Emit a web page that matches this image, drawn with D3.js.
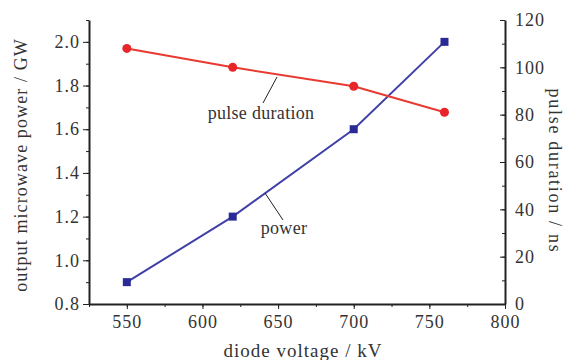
<!DOCTYPE html>
<html>
<head>
<meta charset="utf-8">
<script src="https://cdn.jsdelivr.net/npm/d3@7"></script>
<style>
  body { margin: 0; background: #fff; }
  svg text { font-family: "Liberation Serif", "Times New Roman", Tinos, "DejaVu Serif", serif; fill: #333; }
  .axis path, .axis line { stroke: #222; }
</style>
</head>
<body>
<script>
// diode voltage (kV)
var voltage = [550, 620, 700, 760];
// output microwave power (GW)
var power = [0.9, 1.2, 1.6, 2.0];
// pulse duration (ns)
var duration = [108, 100, 92, 81];

var xTicks = [550, 600, 650, 700, 750, 800];
var yLeftTicks = [0.8, 1.0, 1.2, 1.4, 1.6, 1.8, 2.0];
var yRightTicks = [0, 20, 40, 60, 80, 100, 120];

var serif = '"Liberation Serif", "Times New Roman", Tinos, "DejaVu Serif", serif';

var w = 565, h = 360;
var margin = {top: 20, bottom: 56, left: 89, right: 60};

var svg = d3.select("body").append("svg")
  .attr("width", w)
  .attr("height", h)
  .attr("font-family", serif);

var x = d3.scaleLinear()
  .domain([525, 800])
  .range([margin.left, w - margin.right]);

var yL = d3.scaleLinear()
  .domain([0.8, 2.1])
  .range([h - margin.bottom, margin.top]);

var yR = d3.scaleLinear()
  .domain([0, 120])
  .range([h - margin.bottom, margin.top]);

// minor ticks first, majors on top
svg.append("g")
  .attr("class", "axis")
  .attr("transform", "translate(0," + (h - margin.bottom) + ")")
  .call(d3.axisBottom(x).tickValues(d3.range(525, 801, 25)).tickSize(3).tickFormat(""))
  .call(function(g){ g.select(".domain").remove(); });

svg.append("g")
  .attr("class", "axis")
  .attr("transform", "translate(" + margin.left + ",0)")
  .call(d3.axisLeft(yL).tickValues(d3.range(0.8, 2.15, 0.1)).tickSize(3).tickFormat(""))
  .call(function(g){ g.select(".domain").remove(); });

svg.append("g")
  .attr("class", "axis")
  .attr("transform", "translate(" + (w - margin.right) + ",0)")
  .call(d3.axisRight(yR).tickValues(d3.range(0, 121, 10)).tickSize(-3).tickFormat(""))
  .call(function(g){ g.select(".domain").remove(); });

svg.append("g")
  .attr("class", "axis")
  .attr("transform", "translate(0," + (h - margin.bottom) + ")")
  .call(d3.axisBottom(x).tickValues(xTicks).tickSize(5).tickPadding(6).tickSizeOuter(0));

svg.append("g")
  .attr("class", "axis")
  .attr("transform", "translate(" + margin.left + ",0)")
  .call(d3.axisLeft(yL).tickValues(yLeftTicks).tickSize(6).tickPadding(3)
    .tickSizeOuter(0).tickFormat(d3.format(".1f")));

svg.append("g")
  .attr("class", "axis")
  .attr("transform", "translate(" + (w - margin.right) + ",0)")
  .call(d3.axisRight(yR).tickValues(yRightTicks).tickSize(-5).tickPadding(10).tickSizeOuter(0));

svg.selectAll(".axis path.domain").attr("stroke-width", 2);
svg.selectAll(".axis text")
  .attr("font-family", serif)
  .style("font-family", serif)
  .style("font-size", "18px")
  .style("letter-spacing", "1px")
  .attr("fill", "#333");

// lines
var linePower = d3.line()
  .x(function(d, i){ return x(voltage[i]); })
  .y(function(d){ return yL(d); });

var lineDur = d3.line()
  .x(function(d, i){ return x(voltage[i]); })
  .y(function(d){ return yR(d); });

svg.append("path")
  .datum(power)
  .attr("d", linePower)
  .attr("fill", "none")
  .attr("stroke", "#4040a8")
  .attr("stroke-width", 2);

svg.append("path")
  .datum(duration)
  .attr("d", lineDur)
  .attr("fill", "none")
  .attr("stroke", "#e83a30")
  .attr("stroke-width", 2);

svg.selectAll(".sq")
  .data(power)
  .enter()
    .append("rect")
    .attr("class", "sq")
    .attr("x", function(d, i){ return x(voltage[i]) - 4; })
    .attr("y", function(d){ return yL(d) - 4; })
    .attr("width", 8)
    .attr("height", 8)
    .attr("fill", "#2a2a96");

svg.selectAll(".dot")
  .data(duration)
  .enter()
    .append("circle")
    .attr("class", "dot")
    .attr("cx", function(d, i){ return x(voltage[i]); })
    .attr("cy", function(d){ return yR(d); })
    .attr("r", 4.5)
    .attr("fill", "#e8262a");

// annotations
svg.append("line")
  .attr("x1", 277).attr("y1", 77)
  .attr("x2", 263).attr("y2", 103)
  .attr("stroke", "#222").attr("stroke-width", 1);

svg.append("text")
  .attr("x", 261).attr("y", 119)
  .attr("text-anchor", "middle")
  .style("font-size", "18px")
  .style("letter-spacing", "0.3px")
  .text("pulse duration");

svg.append("line")
  .attr("x1", 265).attr("y1", 193)
  .attr("x2", 283).attr("y2", 220)
  .attr("stroke", "#222").attr("stroke-width", 1);

svg.append("text")
  .attr("x", 284).attr("y", 234)
  .attr("text-anchor", "middle")
  .style("font-size", "18px")
  .style("letter-spacing", "0.3px")
  .text("power");

// axis titles
svg.append("text")
  .attr("x", 303).attr("y", 357)
  .attr("text-anchor", "middle")
  .style("font-size", "19px")
  .style("letter-spacing", "1px")
  .text("diode voltage / kV");

svg.append("text")
  .attr("transform", "translate(27,165) rotate(-90)")
  .attr("text-anchor", "middle")
  .style("font-size", "18px")
  .style("letter-spacing", "1.1px")
  .text("output microwave power / GW");

svg.append("text")
  .attr("transform", "translate(549,171) rotate(90)")
  .attr("text-anchor", "middle")
  .style("font-size", "18px")
  .style("letter-spacing", "1.7px")
  .text("pulse duration / ns");
</script>
</body>
</html>
